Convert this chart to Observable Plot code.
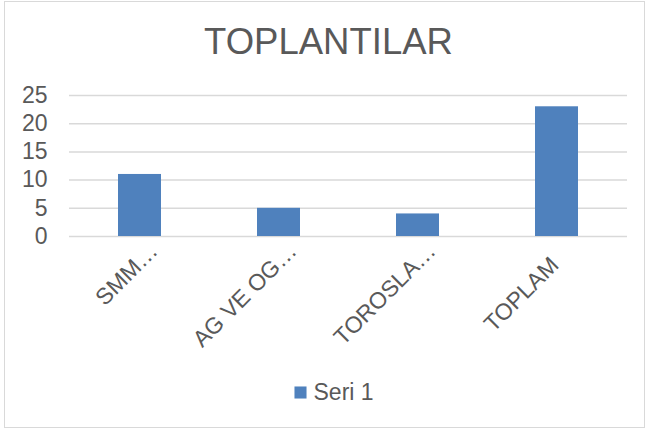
<!DOCTYPE html>
<html>
<head>
<meta charset="utf-8">
<script src="https://cdn.jsdelivr.net/npm/d3@7"></script>
<script src="https://cdn.jsdelivr.net/npm/@observablehq/plot@0.6"></script>
<style>
  body { margin: 0; background: #fff; }
  #wrap { position: relative; width: 648px; height: 431px; font-family: "Liberation Sans", Arial, sans-serif; }
  #border { position: absolute; left: 4px; top: 1px; width: 641px; height: 427px; border: 1px solid #d9d9d9; box-sizing: border-box; pointer-events: none; }
  svg { display: block; }
</style>
</head>
<body>
<div id="wrap"><div id="border"></div></div>
<script>
const title = "TOPLANTILAR";
const categories = ["SMM…", "AG VE OG…", "TOROSLA…", "TOPLAM"];
const values = [11, 5, 4, 23];
const yTicks = [0, 5, 10, 15, 20, 25];
const seriesName = "Seri 1";

const data = categories.map((c, i) => ({cat: c, val: values[i]}));
const textColor = "#595959";
const barColor = "#4f81bd";

const chart = Plot.plot({
  width: 648,
  height: 431,
  marginLeft: 69,
  marginRight: 21,
  marginTop: 95,
  marginBottom: 195,
  style: {fontFamily: "'Liberation Sans', Arial, sans-serif", color: textColor, background: "transparent"},
  x: {domain: categories, paddingInner: 0.69, paddingOuter: 0.345, axis: null},
  y: {domain: [0, 25], axis: null},
  marks: [
    Plot.ruleY(yTicks, {stroke: "#d9d9d9", strokeWidth: 1.5}),
    Plot.barY(data, {x: "cat", y: "val", fill: barColor}),
    Plot.axisY({ticks: yTicks, tickSize: 0, tickPadding: 22, fontSize: 23, fill: textColor, label: null}),
    Plot.text(data.filter(d => d.cat.endsWith("…")), {
      x: "cat", frameAnchor: "bottom", text: "cat", rotate: -45,
      textAnchor: "end", lineAnchor: "bottom", dx: 19, dy: 16,
      fontSize: 23, fill: textColor
    }),
    Plot.text(data.filter(d => !d.cat.endsWith("…")), {
      x: "cat", frameAnchor: "bottom", text: "cat", rotate: -45,
      textAnchor: "end", lineAnchor: "bottom", dx: 3, dy: 30,
      fontSize: 23, fill: textColor
    }),
    Plot.text([title], {
      frameAnchor: "top", text: d => d, dx: -20, dy: -42,
      lineAnchor: "bottom", fontSize: 36.5, fill: textColor
    }),
    Plot.dot([seriesName], {
      frameAnchor: "bottom", symbol: "square", r: 6.8, fill: barColor, stroke: null,
      dx: -48, dy: 156
    }),
    Plot.text([seriesName], {
      frameAnchor: "bottom", text: d => d, textAnchor: "start", lineAnchor: "bottom",
      dx: -35, dy: 163, fontSize: 23, fill: textColor
    })
  ]
});
document.getElementById("wrap").prepend(chart);
</script>
</body>
</html>
